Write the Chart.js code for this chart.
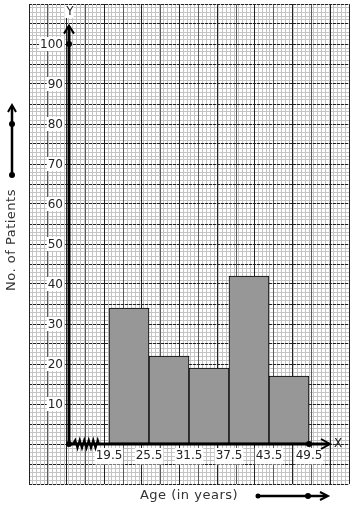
<!DOCTYPE html>
<html>
<head>
<meta charset="utf-8">
<script src="https://cdn.jsdelivr.net/npm/chart.js@4/dist/chart.umd.min.js"></script>
<style>
  html, body { margin: 0; padding: 0; background: #fff; }
  canvas { display: block; }
</style>
</head>
<body>
<canvas id="myChart" width="354" height="510"></canvas>
<script>
// class boundaries (ages) and number of patients in each class
const classEdges = [19.5, 25.5, 31.5, 37.5, 43.5, 49.5];
const patients = [34, 22, 19, 42, 17];
const yTickLabels = [10, 20, 30, 40, 50, 60, 70, 80, 90, 100];
const xTitle = 'Age (in years)';
const yTitle = 'No. of Patients';

// graph paper range: 1 big square = 3 years across, 5 patients up
const xMin = 7.5, xMax = 55.5, xOrigin = 13.5;
const yMin = -10, yMax = 110;

function steps(from, to, step) {
    const out = [];
    const n = Math.round((to - from) / step);
    for (let i = 0; i <= n; i++) out.push({value: +(from + i * step).toFixed(4)});
    return out;
}
function setTicks(list) {
    return function(scale) { scale.ticks = list.map(v => typeof v === 'number' ? {value: v} : v); };
}
function noPad(scale) {
    scale.paddingTop = scale.paddingBottom = scale.paddingLeft = scale.paddingRight = 0;
}

const mids = patients.map((p, i) => ({x: (classEdges[i] + classEdges[i + 1]) / 2, y: p}));

Chart.defaults.font.family = 'DejaVu Sans';
Chart.defaults.font.size = 12;
Chart.defaults.color = '#222';

const hidden = {display: false};

const decor = {
    id: 'decor',
    beforeDatasetsDraw(chart) {
        // y tick labels sit beside the y axis, inside the graph paper
        const {ctx, scales: {x, y}} = chart;
        const ox = x.getPixelForValue(xOrigin);
        ctx.save();
        ctx.font = '12px DejaVu Sans';
        ctx.textAlign = 'right';
        ctx.textBaseline = 'middle';
        yTickLabels.forEach(v => {
            const py = y.getPixelForValue(v);
            const txt = String(v);
            const w = ctx.measureText(txt).width;
            ctx.fillStyle = '#fff';
            ctx.fillRect(ox - 6 - w - 1, py - 7, w + 2, 14);
            ctx.fillStyle = '#222';
            ctx.fillText(txt, ox - 6, py + 1);
        });
        ctx.restore();
    },
    afterDatasetsDraw(chart) {
        const {ctx, chartArea: a, scales: {x, y}} = chart;
        const ox = x.getPixelForValue(xOrigin);
        const oy = y.getPixelForValue(0);
        const yTop = y.getPixelForValue(104.6);
        const xEnd = x.getPixelForValue(52.65);

        function dot(px, py, r) {
            ctx.beginPath(); ctx.arc(px, py, r, 0, Math.PI * 2); ctx.fill();
        }
        function seg(x1, y1, x2, y2) {
            ctx.beginPath(); ctx.moveTo(x1, y1); ctx.lineTo(x2, y2); ctx.stroke();
        }
        function chevron(px, py, dir, w, l) {
            ctx.beginPath();
            if (dir === 'up') { ctx.moveTo(px - w, py + l); ctx.lineTo(px, py); ctx.lineTo(px + w, py + l); }
            else { ctx.moveTo(px - l, py - w); ctx.lineTo(px, py); ctx.lineTo(px - l, py + w); }
            ctx.stroke();
        }

        ctx.save();
        ctx.strokeStyle = '#000';
        ctx.fillStyle = '#000';

        // y axis
        ctx.lineWidth = 3;
        seg(ox, oy, ox, yTop + 1);
        ctx.lineWidth = 2;
        chevron(ox, yTop, 'up', 5, 8);
        dot(ox, y.getPixelForValue(100), 3);

        // x axis
        ctx.lineWidth = 3;
        seg(ox, oy, xEnd - 1, oy);
        ctx.lineWidth = 2;
        chevron(xEnd, oy, 'right', 5, 9);
        dot(x.getPixelForValue(classEdges[classEdges.length - 1]), oy, 3);
        dot(ox, oy, 3);

        // axis break zigzag
        const z0 = x.getPixelForValue(xOrigin + 0.6);
        const z1 = x.getPixelForValue(xOrigin + 4.5);
        ctx.lineWidth = 2;
        ctx.beginPath();
        ctx.moveTo(z0, oy);
        let k = 0;
        for (let px = z0 + 2.25; px < z1; px += 2.25, k++) {
            ctx.lineTo(px, oy + (k % 2 ? 4 : -4));
        }
        ctx.lineTo(z1, oy);
        ctx.stroke();

        // axis letters
        ctx.font = '12px DejaVu Sans';
        ctx.textAlign = 'center';
        ctx.textBaseline = 'middle';
        const yw = ctx.measureText('Y').width;
        ctx.fillStyle = '#fff';
        ctx.fillRect(ox - yw / 2 - 1, a.top + 1, yw + 2, 13);
        ctx.fillStyle = '#222';
        ctx.fillText('Y', ox + 1, a.top + 8);
        ctx.textAlign = 'left';
        ctx.fillText('X', xEnd + 4, oy);

        // axis titles
        ctx.fillStyle = '#333';
        ctx.textAlign = 'center';
        ctx.font = '13px DejaVu Sans';
        ctx.letterSpacing = '0.5px';
        ctx.fillText(xTitle, 189, a.bottom + 12);
        ctx.save();
        ctx.translate(a.left - 17, 240);
        ctx.rotate(-Math.PI / 2);
        ctx.fillText(yTitle, 0, 0);
        ctx.restore();
        ctx.letterSpacing = '0px';

        // direction arrows next to the titles
        ctx.fillStyle = '#000';
        const lx = a.left - 17;
        ctx.lineWidth = 2.5;
        seg(lx, 175, lx, 106);
        ctx.lineWidth = 2;
        chevron(lx, 105, 'up', 4, 7);
        dot(lx, 175, 3);
        dot(lx, 124, 3);

        const by = a.bottom + 12;
        ctx.lineWidth = 2.5;
        seg(258, by, 327, by);
        ctx.lineWidth = 2;
        chevron(328, by, 'right', 4, 8);
        dot(258, by, 2.5);
        dot(308, by, 3);

        ctx.restore();
    }
};

new Chart(document.getElementById('myChart').getContext('2d'), {
    type: 'bar',
    data: {
        datasets: [{
            data: mids,
            backgroundColor: '#979797',
            borderColor: '#000',
            borderWidth: 1,
            borderSkipped: false,
            barPercentage: 1,
            categoryPercentage: 1,
            xAxisID: 'x',
            yAxisID: 'y'
        }]
    },
    plugins: [decor],
    options: {
        responsive: false,
        animation: false,
        events: [],
        layout: {padding: {left: 29, top: 4, right: 5, bottom: 26}, autoPadding: false},
        plugins: {legend: hidden, tooltip: {enabled: false}},
        scales: {
            xMinor: {
                axis: 'x', type: 'linear', position: 'bottom', min: xMin, max: xMax,
                afterBuildTicks: setTicks(steps(xMin, xMax, 0.6)), afterFit: noPad,
                ticks: hidden, border: hidden,
                grid: {color: '#c4c4c4', lineWidth: 1, drawTicks: false, z: -4}
            },
            yMinor: {
                axis: 'y', type: 'linear', position: 'left', min: yMin, max: yMax,
                afterBuildTicks: setTicks(steps(yMin, yMax, 1)), afterFit: noPad,
                ticks: hidden, border: hidden,
                grid: {color: '#c4c4c4', lineWidth: 1, drawTicks: false, z: -4}
            },
            xMajor: {
                axis: 'x', type: 'linear', position: 'bottom', min: xMin, max: xMax,
                afterBuildTicks: setTicks(steps(xMin, xMax, 3)), afterFit: noPad,
                ticks: hidden, border: hidden,
                grid: {
                    color: c => c.index % 2 ? '#5a5a5a' : '#222',
                    lineWidth: 1, drawTicks: false, z: -3
                }
            },
            y: {
                type: 'linear', position: 'left', min: yMin, max: yMax,
                afterBuildTicks: setTicks(steps(yMin, yMax, 5)), afterFit: noPad,
                ticks: hidden, border: {display: false, dash: [3, 1]},
                grid: {color: '#222', lineWidth: 1, drawTicks: false, z: -2}
            },
            x: {
                type: 'linear', position: {y: 0}, min: xMin, max: xMax, offset: false,
                afterBuildTicks: setTicks(classEdges), afterFit: noPad,
                border: hidden,
                grid: {display: false, drawTicks: false, offset: false},
                ticks: {
                    padding: 5, maxRotation: 0, autoSkip: false,
                    callback: v => String(v),
                    showLabelBackdrop: true, backdropColor: '#fff', backdropPadding: 1
                }
            }
        }
    }
});
</script>
</body>
</html>
